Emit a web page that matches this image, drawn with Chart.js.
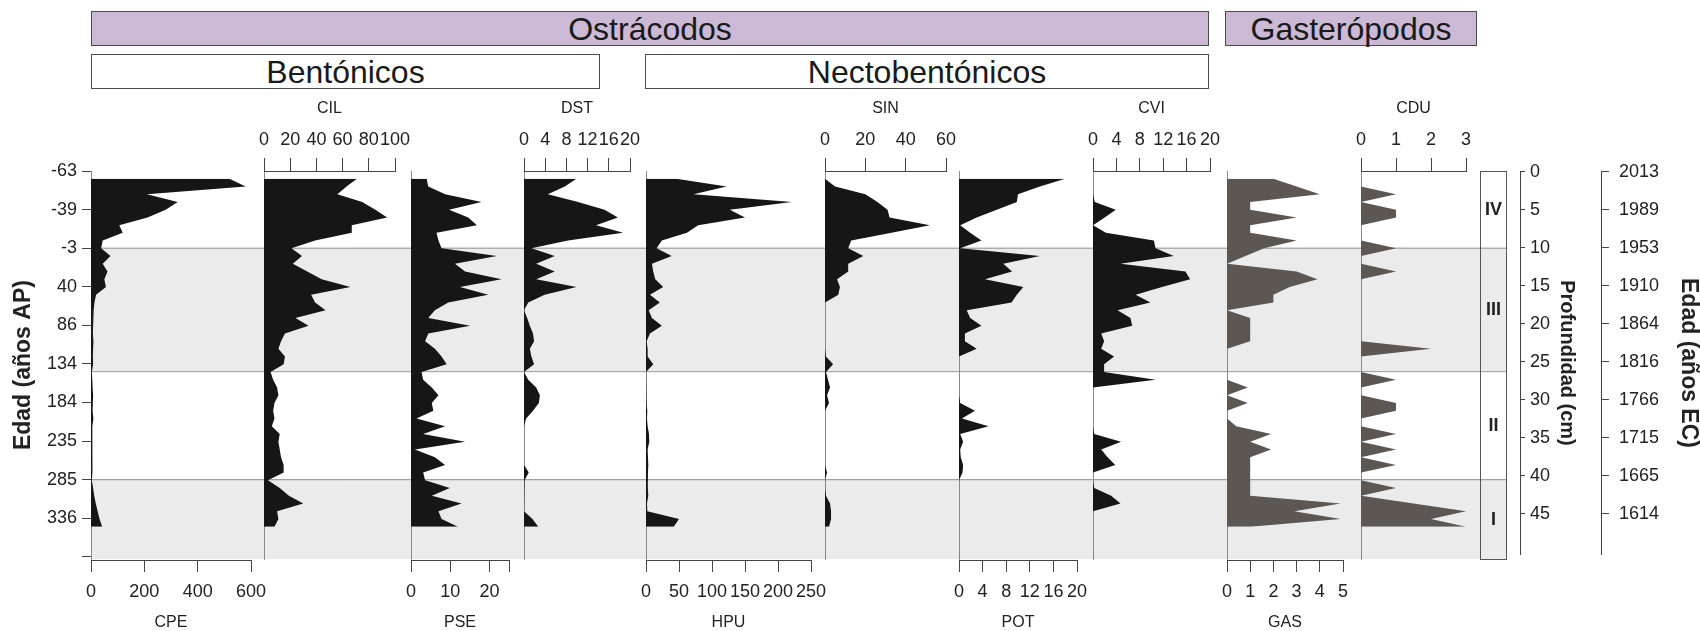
<!DOCTYPE html>
<html lang="es">
<head>
<meta charset="utf-8">
<title>Ostrácodos y gasterópodos</title>
<script src="https://cdn.jsdelivr.net/npm/chart.js@4.4.1/dist/chart.umd.min.js"></script>
<style>
  html, body { margin: 0; padding: 0; background: #fff; width: 1700px; height: 631px; overflow: hidden; }
  body { position: relative; font-family: "Liberation Sans", Arial, sans-serif; color: #1a1a1a; }
  canvas { position: absolute; }
  .hdr { position: absolute; box-sizing: border-box; border: 1.5px solid #4a4a4a; font-size: 32px; text-align: center; line-height: 32px; padding-top: 1px; }
  .lila { background: #cbb9d5; }
</style>
</head>
<body>
<div class="hdr lila" style="left:91px;top:11px;width:1118px;height:35px;">Ostrácodos</div>
<div class="hdr lila" style="left:1225px;top:11px;width:252px;height:35px;">Gasterópodos</div>
<div class="hdr" style="left:91px;top:54px;width:509px;height:35px;">Bentónicos</div>
<div class="hdr" style="left:645px;top:54px;width:564px;height:35px;">Nectobentónicos</div>
<script>
// profundidad de cada muestra (cm)
const depths = [1,2,3,4,5,6,7,8,9,10,11,12,13,14,15,16,17,18,19,20,21,22,23,24,25,26,27,28,29,30,31,32,33,34,35,36,37,38,39,40,41,42,43,44,45,46];

// ejes de profundidad / edad
const depthTicks = [0,5,10,15,20,25,30,35,40,45];
const ageAP = ['-63','-39','-3','40','86','134','184','235','285','336'];
const ageEC = ['2013','1989','1953','1910','1864','1816','1766','1715','1665','1614'];

// zonas
const zoneNames = ['IV','III','II','I'];
const zoneTop = [0,10,26,40];
const zoneBottom = [10,26,40,50.3];
const zoneShaded = [false,true,false,true];

// abundancias
const cpe = [519,580,210,325,280,212,106,119,44,38,73,44,62,50,56,19,13,10,8,8,7,9,8,7,8,3,5,6,8,7,6,9,5,4,6,5,7,6,5,3,8,12,18,25,32,42];
const cil = [71,63,56,75,85,94,67,67,39,21,29,22,33,44,66,36,39,47,24,34,16,13,11,16,15,5,7,10,11,8,7,8,6,12,11,12,13,15,15,3,12,19,30,10,11,8];
const pse = [4.0,4.4,8.7,18.0,9.7,14.6,16.8,6.5,7.0,7.8,21.9,11.2,13.8,23.1,12.5,19.7,9.5,6.1,4.4,15.1,4.4,3.6,6.1,7.8,9.1,2.7,3.1,5.3,7.0,5.3,5.7,1.4,8.7,3.1,13.8,1.0,6.1,8.7,3.1,3.6,9.9,5.3,12.9,7.0,7.8,12];
const dst = [9.9,7.7,4.5,10.2,15.2,17.7,13.6,18.7,8.3,1.4,5.8,2.3,5.8,2.3,9.9,3.9,0.8,0,0.6,1.1,1.7,1.9,1.1,1.4,1.9,0,0.8,2.3,3.0,2.8,1.7,0.4,0,0,0,0,0,0,0.9,0.1,0,0,0,0,1.6,2.7];
const hpu = [46,122,72,221,127,150,79,62,24,16,39,9,11,14,26,6,21,4,9,24,6,1,2.5,2.5,11,0,0,0.5,1,1.5,2,1.5,2.5,4.5,5,2.5,3,3.5,3,2.5,3,3.5,1.5,2,50,42];
const sin = [0,5,20,26,31,32,52,33,13,11.5,19,11.5,11.5,6,7.4,6.6,0,0,0,0,0,0,0,0.5,4,0.5,1.5,2.5,1,2,0,0,0,0,0,0,0,0,1,0,0,0.5,2.5,3,3,2];
const pot = [18,13.7,10,9.8,6.4,3,0.2,1.9,3.8,0.2,13.7,7.5,9,4.4,10.9,9.8,8.9,1.3,1.9,3.8,1,1,3,0,0,0,0,0,0,0.2,2.7,0.5,5,0.2,0.7,0.2,0.3,0.7,0.6,0,0,0,0,0,0,0];
const cvi = [0,0,0,0.3,3.9,2,0,2.2,10.4,10.7,13.8,4.7,15.8,16.6,11.8,7.3,9.8,4.2,6.4,6.7,1.4,1.9,1.4,3.6,1.9,1.9,10.7,0,0,0,0,0,0,0.2,4.8,1.4,2.5,3.8,0,0,0.2,3.1,4.7,0,0,0];
const gas = [2,3,4,1,1,3,1,1,3,1.6,0.8,0,3,3.9,2.7,2,2,0,1,1,1,1,0,0,0,0,0,0.9,0,0.9,0,0,0.4,1.9,1,1.9,1,1,1,1,1,1,4.9,2.9,4.9,1];
const cdu = [0,0,1,0,1,1,0,0,0,1,0,0,1,0,0,0,0,0,0,0,0,0,2,0,0,0,1,0,0,1,1,0,0,1,0,1,0,1,0,0,1,0,1.5,3,2,3];

// marcas de los ejes de cada taxón
const cpeTicks = [0,200,400,600];
const cilTicks = [0,20,40,60,80,100];
const pseTicks = [0,10,20,25];
const pseLabels = ['0','10','20',''];
const dstTicks = [0,4,8,12,16,20];
const hpuTicks = [0,50,100,150,200,250];
const sinTicks = [0,20,40,60];
const potTicks = [0,4,8,12,16,20];
const cviTicks = [0,4,8,12,16,20];
const gasTicks = [0,1,2,3,4,5];
const cduTicks = [0,1,2,3];

// ---- disposición ----
const PLOT_TOP = 171, PLOT_H = 389, DMAX = 50.3;
const INK = '#222', AXIS = '#444';
const BLACK = '#161616', GREY = '#5d5754';

const panels = [
  {name: 'CPE', values: cpe, ticks: cpeTicks, side: 'bottom', x0: 91, x1: 251, color: BLACK},
  {name: 'CIL', values: cil, ticks: cilTicks, side: 'top', x0: 264, x1: 395, color: BLACK},
  {name: 'PSE', values: pse, ticks: pseTicks, labels: pseLabels, side: 'bottom', x0: 411, x1: 509, color: BLACK},
  {name: 'DST', values: dst, ticks: dstTicks, side: 'top', x0: 524, x1: 630, color: BLACK},
  {name: 'HPU', values: hpu, ticks: hpuTicks, side: 'bottom', x0: 646, x1: 811, color: BLACK},
  {name: 'SIN', values: sin, ticks: sinTicks, side: 'top', x0: 825, x1: 946, color: BLACK},
  {name: 'POT', values: pot, ticks: potTicks, side: 'bottom', x0: 959, x1: 1077, color: BLACK},
  {name: 'CVI', values: cvi, ticks: cviTicks, side: 'top', x0: 1093, x1: 1210, color: BLACK},
  {name: 'GAS', values: gas, ticks: gasTicks, side: 'bottom', x0: 1227, x1: 1343, color: GREY},
  {name: 'CDU', values: cdu, ticks: cduTicks, side: 'top', x0: 1361, x1: 1466, color: GREY}
];

Chart.defaults.font.family = '"Liberation Sans", Arial, sans-serif';
Chart.defaults.color = INK;

function addCanvas(left, top, w, h) {
  const c = document.createElement('canvas');
  c.width = w; c.height = h;
  c.style.left = left + 'px'; c.style.top = top + 'px';
  c.style.width = w + 'px'; c.style.height = h + 'px';
  document.body.appendChild(c);
  return c;
}

const base = {
  responsive: false, animation: false, events: [],
  plugins: {legend: {display: false}, tooltip: {enabled: false}}
};

// fondo: bandas de zonas + eje de edad AP
const bandSets = [];
zoneNames.forEach((z, i) => {
  if (!zoneShaded[i]) return;
  bandSets.push({data: [{x: 0, y: zoneTop[i]}, {x: 1, y: zoneTop[i]}], borderColor: '#8c8c8c', borderWidth: 1, fill: false, pointRadius: 0});
  const edge = zoneBottom[i] < DMAX;
  bandSets.push({data: [{x: 0, y: zoneBottom[i]}, {x: 1, y: zoneBottom[i]}], borderColor: '#9a9a9a', borderWidth: edge ? 1 : 0,
    fill: '-1', backgroundColor: '#ebebeb', pointRadius: 0});
});

new Chart(addCanvas(0, PLOT_TOP - 20, 1507, 20 + PLOT_H + 15), {
  type: 'line',
  data: {datasets: bandSets},
  options: {
    ...base,
    layout: {padding: {top: 20, bottom: 15, left: 0, right: 0}},
    scales: {
      x: {type: 'linear', display: false, min: 0, max: 1},
      y: {
        type: 'linear', position: 'left', reverse: true, min: 0, max: DMAX,
        afterBuildTicks: s => { s.ticks = depthTicks.concat([50]).map(v => ({value: v})); },
        afterFit: s => { s.width = 91; },
        ticks: {font: {size: 18}, padding: 5, color: INK, callback: (v, i) => ageAP[i] || ''},
        grid: {drawOnChartArea: false, tickLength: 9, color: AXIS},
        border: {color: AXIS},
        title: {display: true, text: 'Edad (años AP)', color: INK, font: {size: 23, weight: 'bold', lineHeight: 1}, padding: {top: 12, bottom: 0}}
      }
    }
  }
});

// paneles de cada taxón
panels.forEach(p => {
  const top = p.side === 'top';
  const padX = 26;
  const axisH = top ? 80 : 71;
  const padTop = top ? 0 : 5;
  const w = p.x1 - p.x0 + 2 * padX;
  const h = top ? axisH + PLOT_H : padTop + PLOT_H + axisH;
  const canvas = addCanvas(p.x0 - padX, top ? PLOT_TOP - axisH : PLOT_TOP - padTop, w, h);
  new Chart(canvas, {
    type: 'line',
    data: {datasets: [{
      data: depths.map((d, i) => ({x: p.values[i], y: d})),
      fill: 'origin', backgroundColor: p.color, borderWidth: 0, pointRadius: 0, tension: 0
    }]},
    options: {
      ...base,
      indexAxis: 'y',
      layout: {padding: {left: padX, right: padX, top: padTop, bottom: 0}},
      scales: {
        x: {
          type: 'linear', position: p.side, min: 0, max: p.ticks[p.ticks.length - 1],
          afterBuildTicks: s => { s.ticks = p.ticks.map(v => ({value: v})); },
          afterFit: s => { s.height = axisH; },
          ticks: {autoSkip: false, maxRotation: 0, minRotation: 0, padding: top ? 7 : 9, color: INK, font: {size: 18},
            callback: (v, i) => p.labels ? p.labels[i] : String(p.ticks[i])},
          grid: {
            color: c => (c.tick && c.tick.value === 0) ? '#8a8a8a' : 'rgba(0,0,0,0)',
            tickColor: AXIS, tickLength: top ? 13 : 12, lineWidth: 1
          },
          border: {display: true, color: AXIS, width: 1},
          title: {display: true, text: p.name, color: INK, font: {size: 16, lineHeight: 1},
            padding: top ? {top: 10, bottom: 0} : {top: 0, bottom: 0}}
        },
        y: {type: 'linear', display: false, reverse: true, min: 0, max: DMAX}
      }
    }
  });
});

// columna de zonas
const zoneLabels = {
  id: 'zoneLabels',
  afterDraw(chart) {
    const {ctx, chartArea: a, scales: {y}} = chart;
    ctx.save();
    ctx.strokeStyle = '#555';
    ctx.lineWidth = 1;
    ctx.strokeRect(a.left + 0.5, a.top + 0.5, a.width - 1, a.height - 1);
    ctx.fillStyle = INK;
    ctx.font = 'bold 18px "Liberation Sans", Arial, sans-serif';
    ctx.textAlign = 'center';
    ctx.textBaseline = 'middle';
    zoneNames.forEach((n, i) => {
      ctx.fillText(n, (a.left + a.right) / 2, y.getPixelForValue((zoneTop[i] + zoneBottom[i]) / 2));
    });
    ctx.restore();
  }
};
new Chart(addCanvas(1480, PLOT_TOP, 27, PLOT_H), {
  type: 'line',
  data: {datasets: []},
  options: {
    ...base,
    layout: {padding: 0},
    scales: {
      x: {type: 'linear', display: false, min: 0, max: 1},
      y: {type: 'linear', display: false, reverse: true, min: 0, max: DMAX}
    }
  },
  plugins: [zoneLabels]
});

// ejes de la derecha: profundidad y edad EC
new Chart(addCanvas(1500, PLOT_TOP - 20, 200, 20 + PLOT_H + 15), {
  type: 'line',
  data: {datasets: []},
  options: {
    ...base,
    layout: {padding: {left: 10, top: 20, bottom: 15, right: 0}},
    scales: {
      x: {type: 'linear', display: false, min: 0, max: 1},
      depth: {
        axis: 'y', type: 'linear', position: 'right', weight: 1, reverse: true, min: 0, max: DMAX,
        afterBuildTicks: s => { s.ticks = depthTicks.map(v => ({value: v})); },
        afterFit: s => { s.width = 81; },
        ticks: {font: {size: 18}, padding: 5, color: INK, callback: (v, i) => String(depthTicks[i])},
        grid: {drawOnChartArea: false, tickLength: 5, color: AXIS},
        border: {color: AXIS},
        title: {display: true, text: 'Profundidad (cm)', color: INK, font: {size: 20, weight: 'bold'}, padding: {top: 22, bottom: 0}}
      },
      ec: {
        axis: 'y', type: 'linear', position: 'right', weight: 2, reverse: true, min: 0, max: DMAX,
        afterBuildTicks: s => { s.ticks = depthTicks.map(v => ({value: v})); },
        afterFit: s => { s.width = 99; },
        ticks: {font: {size: 18}, padding: 10, color: INK, callback: (v, i) => ageEC[i]},
        grid: {drawOnChartArea: false, tickLength: 8, color: AXIS},
        border: {color: AXIS},
        title: {display: true, text: 'Edad (años EC)', color: INK, font: {size: 23, weight: 'bold', lineHeight: 1}, padding: {top: 0, bottom: 0}}
      }
    }
  }
});
</script>
</body>
</html>
